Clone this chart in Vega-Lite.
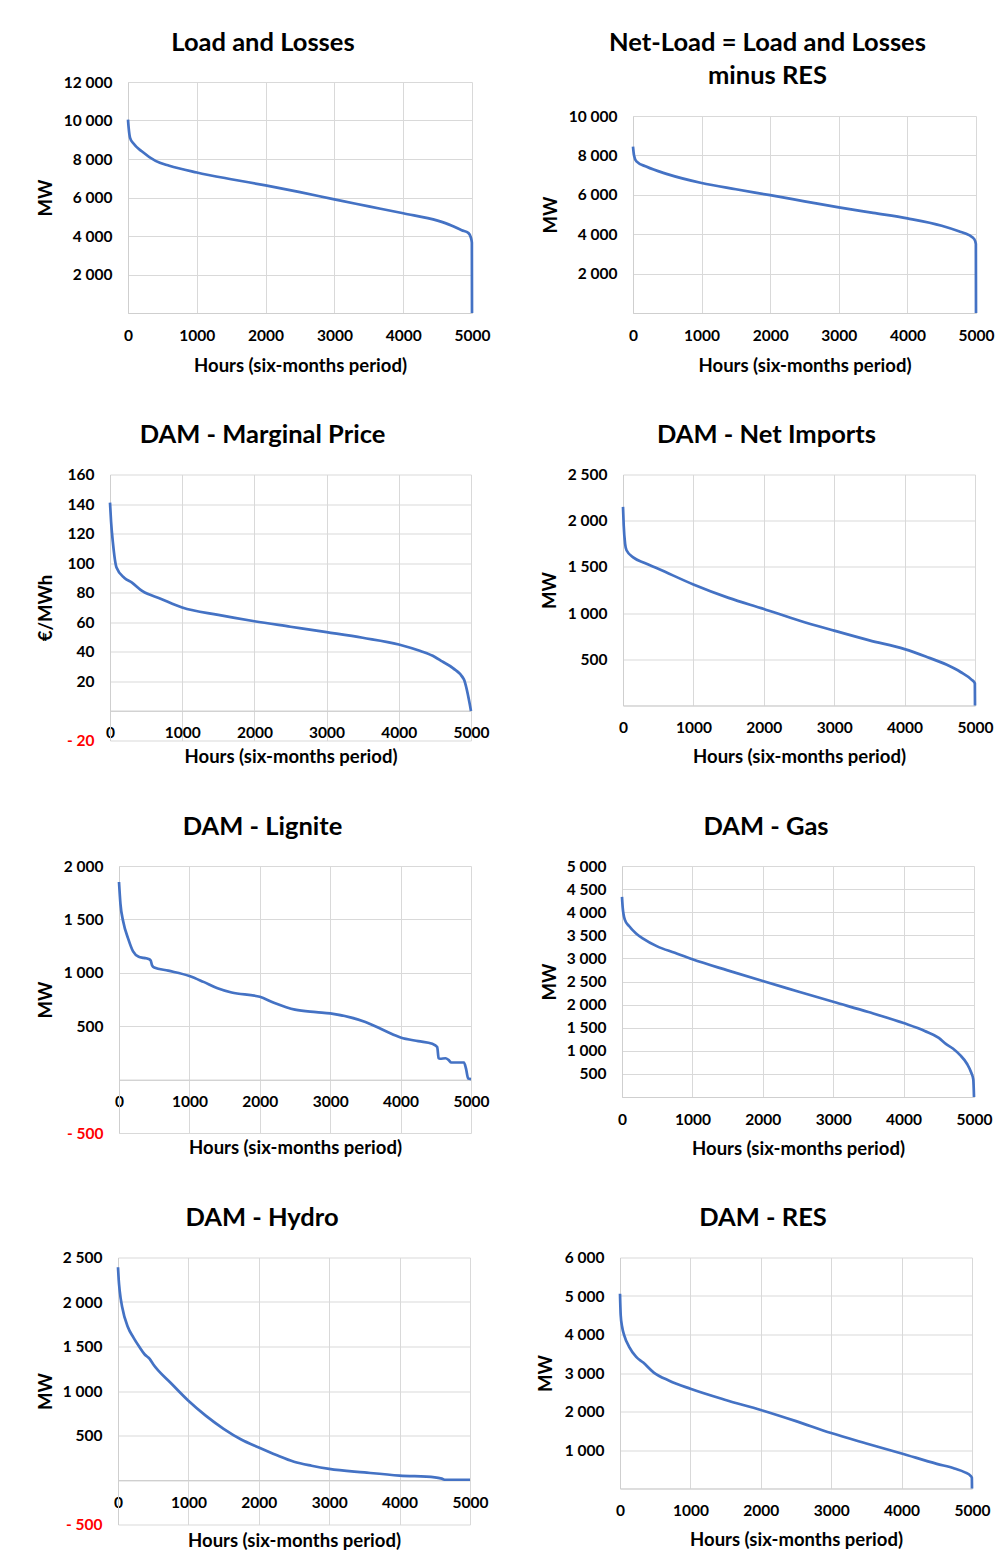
{
  "$schema": "https://vega.github.io/schema/vega-lite/v6.json",
  "padding": {"left": 36, "top": 30, "right": 5, "bottom": 5},
  "background": "white",
  "columns": 2,
  "spacing": {"row": 47.5, "column": 46},
  "config": {
    "font": "Lato",
    "view": {"stroke": null},
    "title": {"fontSize": 25.5, "fontWeight": "bold", "color": "black", "frame": "bounds", "anchor": "middle", "offset": 19, "lineHeight": 33},
    "axis": {"labelFontSize": 15.5, "labelFontWeight": "bold", "labelColor": "black", "titleFontSize": 18.5, "titleFontWeight": "bold", "titleColor": "black", "gridColor": "#d9d9d9", "domainColor": "#cfcfcf", "ticks": false, "labelOverlap": false},
    "axisX": {"labelPadding": 15, "labelFlush": false, "titleBaseline": "middle"},
    "axisY": {"labelPadding": 16, "titleBaseline": "middle"},
    "line": {"color": "#4472C4", "strokeWidth": 2.7, "interpolate": "monotone"}
  },
  "datasets": {
    "load": [{"h":0,"v":10050},{"h":10,"v":9600},{"h":30,"v":9100},{"h":80,"v":8800},{"h":200,"v":8400},{"h":400,"v":7900},{"h":600,"v":7650},{"h":1000,"v":7300},{"h":1500,"v":6950},{"h":2000,"v":6630},{"h":2500,"v":6280},{"h":3000,"v":5900},{"h":3500,"v":5540},{"h":4000,"v":5180},{"h":4500,"v":4800},{"h":4700,"v":4550},{"h":4850,"v":4300},{"h":4950,"v":4150},{"h":4985,"v":3900},{"h":4998,"v":3650},{"h":5000,"v":0}],
    "netload": [{"h":0,"v":8450},{"h":15,"v":8000},{"h":50,"v":7700},{"h":200,"v":7420},{"h":500,"v":7050},{"h":1000,"v":6600},{"h":1500,"v":6280},{"h":2000,"v":5980},{"h":2500,"v":5670},{"h":3000,"v":5360},{"h":3500,"v":5080},{"h":4000,"v":4800},{"h":4500,"v":4430},{"h":4750,"v":4150},{"h":4900,"v":3950},{"h":4975,"v":3750},{"h":4998,"v":3500},{"h":5000,"v":0}],
    "price": [{"h":0,"v":141},{"h":15,"v":128},{"h":40,"v":114},{"h":90,"v":97},{"h":200,"v":90},{"h":300,"v":87},{"h":450,"v":81},{"h":700,"v":76},{"h":1000,"v":70},{"h":1500,"v":65},{"h":2000,"v":60.7},{"h":2500,"v":57},{"h":3000,"v":53.3},{"h":3500,"v":49.5},{"h":4000,"v":45},{"h":4300,"v":40.5},{"h":4500,"v":36.5},{"h":4600,"v":33.5},{"h":4750,"v":29},{"h":4900,"v":21.5},{"h":5000,"v":0}],
    "imports": [{"h":0,"v":2150},{"h":10,"v":1950},{"h":30,"v":1750},{"h":50,"v":1680},{"h":150,"v":1600},{"h":300,"v":1545},{"h":500,"v":1480},{"h":1000,"v":1310},{"h":1500,"v":1165},{"h":2000,"v":1045},{"h":2500,"v":920},{"h":3000,"v":810},{"h":3500,"v":705},{"h":4000,"v":610},{"h":4300,"v":530},{"h":4600,"v":440},{"h":4800,"v":360},{"h":4950,"v":280},{"h":4998,"v":240},{"h":5000,"v":0}],
    "lignite": [{"h":0,"v":1850},{"h":20,"v":1650},{"h":60,"v":1480},{"h":130,"v":1320},{"h":200,"v":1200},{"h":280,"v":1150},{"h":350,"v":1140},{"h":420,"v":1130},{"h":450,"v":1115},{"h":470,"v":1070},{"h":500,"v":1050},{"h":700,"v":1020},{"h":1000,"v":970},{"h":1200,"v":915},{"h":1400,"v":855},{"h":1600,"v":815},{"h":2000,"v":775},{"h":2200,"v":720},{"h":2500,"v":655},{"h":2800,"v":632},{"h":3000,"v":620},{"h":3300,"v":580},{"h":3500,"v":540},{"h":3800,"v":450},{"h":4000,"v":395},{"h":4250,"v":360},{"h":4450,"v":335},{"h":4520,"v":305},{"h":4540,"v":200},{"h":4560,"v":195},{"h":4640,"v":200},{"h":4680,"v":185},{"h":4720,"v":160},{"h":4900,"v":160},{"h":4930,"v":100},{"h":4960,"v":10},{"h":5000,"v":5}],
    "gas": [{"h":0,"v":4330},{"h":10,"v":4100},{"h":40,"v":3840},{"h":100,"v":3700},{"h":200,"v":3540},{"h":300,"v":3430},{"h":500,"v":3260},{"h":750,"v":3120},{"h":1000,"v":2980},{"h":1500,"v":2740},{"h":2000,"v":2510},{"h":2500,"v":2285},{"h":3000,"v":2060},{"h":3500,"v":1840},{"h":4000,"v":1600},{"h":4300,"v":1430},{"h":4500,"v":1280},{"h":4600,"v":1150},{"h":4700,"v":1050},{"h":4800,"v":910},{"h":4900,"v":720},{"h":4960,"v":530},{"h":4990,"v":380},{"h":5000,"v":0}],
    "hydro": [{"h":0,"v":2390},{"h":10,"v":2250},{"h":25,"v":2120},{"h":60,"v":1940},{"h":140,"v":1720},{"h":220,"v":1600},{"h":300,"v":1500},{"h":380,"v":1410},{"h":450,"v":1360},{"h":500,"v":1300},{"h":750,"v":1090},{"h":1000,"v":890},{"h":1250,"v":720},{"h":1500,"v":575},{"h":1750,"v":455},{"h":2000,"v":365},{"h":2250,"v":280},{"h":2500,"v":205},{"h":2750,"v":160},{"h":3000,"v":125},{"h":3500,"v":85},{"h":4000,"v":50},{"h":4500,"v":30},{"h":4600,"v":15},{"h":4650,"v":3},{"h":5000,"v":3}],
    "res": [{"h":0,"v":5060},{"h":10,"v":4500},{"h":30,"v":4200},{"h":60,"v":3980},{"h":130,"v":3680},{"h":230,"v":3420},{"h":330,"v":3270},{"h":480,"v":3010},{"h":700,"v":2800},{"h":1000,"v":2590},{"h":1500,"v":2300},{"h":2000,"v":2040},{"h":2500,"v":1750},{"h":3000,"v":1440},{"h":3500,"v":1170},{"h":4000,"v":910},{"h":4500,"v":640},{"h":4750,"v":520},{"h":4900,"v":420},{"h":4980,"v":330},{"h":4998,"v":280},{"h":5000,"v":0}]
  },
  "concat": [
    {
      "title": "Load and Losses",
      "width": 362, "height": 231,
      "data": {"name": "load"},
      "mark": "line",
      "encoding": {
        "x": {"field": "h", "type": "quantitative", "scale": {"domain": [0, 5000], "nice": false, "range": [18, 362]}, "axis": {"title": "Hours (six-months period)", "values": [0,1000,2000,3000,4000,5000], "format": "d", "titleY": 52}},
        "y": {"field": "v", "type": "quantitative", "scale": {"domain": [0, 12000], "nice": false}, "axis": {"title": "MW", "offset": -18, "values": [0,2000,4000,6000,8000,10000,12000], "titleX": -83, "labelExpr": "datum.value == 0 ? '' : (datum.value < 0 ? '- ' : '') + replace(format(abs(datum.value), ','), ',', ' ')", "labelColor": {"condition": {"test": "datum.value < 0", "value": "#ff0000"}, "value": "black"}}}
      }
    },
    {
      "title": {"text": ["Net-Load = Load and Losses", "minus RES"], "dy": 26},
      "width": 356, "height": 231,
      "data": {"name": "netload"},
      "encoding": {
        "y": {"field": "v", "type": "quantitative", "scale": {"domain": [0, 10000], "nice": false, "range": [231, 34]}, "axis": {"title": "MW", "offset": -13, "values": [0,2000,4000,6000,8000,10000], "titleX": -83, "labelExpr": "datum.value == 0 ? '' : (datum.value < 0 ? '- ' : '') + replace(format(abs(datum.value), ','), ',', ' ')", "labelColor": {"condition": {"test": "datum.value < 0", "value": "#ff0000"}, "value": "black"}}}
      },
      "layer": [
        {
          "mark": "line",
          "encoding": {
            "x": {"field": "h", "type": "quantitative", "scale": {"domain": [0, 5000], "nice": false, "range": [13, 356]}, "axis": {"orient": "top", "grid": true, "labels": false, "domain": false, "title": null, "values": [0,1000,2000,3000,4000,5000]}}
          }
        },
        {
          "mark": {"type": "line", "opacity": 0},
          "encoding": {
            "x": {"field": "h", "type": "quantitative", "axis": {"orient": "bottom", "grid": false, "title": "Hours (six-months period)", "values": [0,1000,2000,3000,4000,5000], "format": "d", "titleY": 52}}
          }
        }
      ]
    },
    {
      "title": "DAM - Marginal Price",
      "width": 361, "height": 266,
      "data": {"name": "price"},
      "mark": "line",
      "encoding": {
        "x": {"field": "h", "type": "quantitative", "scale": {"domain": [0, 5000], "nice": false}, "axis": {"title": "Hours (six-months period)", "values": [0,1000,2000,3000,4000,5000], "format": "d", "offset": -29.6, "titleY": 46}},
        "y": {"field": "v", "type": "quantitative", "scale": {"domain": [-20, 160], "nice": false}, "axis": {"title": "€/MWh", "values": [-20,0,20,40,60,80,100,120,140,160], "titleX": -65, "labelExpr": "datum.value == 0 ? '' : (datum.value < 0 ? '- ' : '') + replace(format(abs(datum.value), ','), ',', ' ')", "labelColor": {"condition": {"test": "datum.value < 0", "value": "#ff0000"}, "value": "black"}}}
      }
    },
    {
      "title": "DAM - Net Imports",
      "width": 355, "height": 231,
      "data": {"name": "imports"},
      "mark": "line",
      "encoding": {
        "x": {"field": "h", "type": "quantitative", "scale": {"domain": [0, 5000], "nice": false, "range": [3, 355]}, "axis": {"title": "Hours (six-months period)", "values": [0,1000,2000,3000,4000,5000], "format": "d", "titleY": 51}},
        "y": {"field": "v", "type": "quantitative", "scale": {"domain": [0, 2500], "nice": false}, "axis": {"title": "MW", "offset": -3, "values": [0,500,1000,1500,2000,2500], "titleX": -74, "labelExpr": "datum.value == 0 ? '' : (datum.value < 0 ? '- ' : '') + replace(format(abs(datum.value), ','), ',', ' ')", "labelColor": {"condition": {"test": "datum.value < 0", "value": "#ff0000"}, "value": "black"}}}
      }
    },
    {
      "title": "DAM - Lignite",
      "width": 361, "height": 267,
      "data": {"name": "lignite"},
      "mark": "line",
      "encoding": {
        "x": {"field": "h", "type": "quantitative", "scale": {"domain": [0, 5000], "nice": false, "range": [9, 361]}, "axis": {"title": "Hours (six-months period)", "values": [0,1000,2000,3000,4000,5000], "format": "d", "offset": -53.4, "titleY": 68}},
        "y": {"field": "v", "type": "quantitative", "scale": {"domain": [-500, 2000], "nice": false}, "axis": {"title": "MW", "offset": -9, "values": [-500,0,500,1000,1500,2000], "titleX": -74, "labelExpr": "datum.value == 0 ? '' : (datum.value < 0 ? '- ' : '') + replace(format(abs(datum.value), ','), ',', ' ')", "labelColor": {"condition": {"test": "datum.value < 0", "value": "#ff0000"}, "value": "black"}}}
      }
    },
    {
      "title": "DAM - Gas",
      "width": 354, "height": 231,
      "data": {"name": "gas"},
      "mark": "line",
      "encoding": {
        "x": {"field": "h", "type": "quantitative", "scale": {"domain": [0, 5000], "nice": false, "range": [2, 354]}, "axis": {"title": "Hours (six-months period)", "values": [0,1000,2000,3000,4000,5000], "format": "d", "titleY": 51}},
        "y": {"field": "v", "type": "quantitative", "scale": {"domain": [0, 5000], "nice": false}, "axis": {"title": "MW", "offset": -2, "values": [0,500,1000,1500,2000,2500,3000,3500,4000,4500,5000], "titleX": -73, "labelExpr": "datum.value == 0 ? '' : (datum.value < 0 ? '- ' : '') + replace(format(abs(datum.value), ','), ',', ' ')", "labelColor": {"condition": {"test": "datum.value < 0", "value": "#ff0000"}, "value": "black"}}}
      }
    },
    {
      "title": "DAM - Hydro",
      "width": 360, "height": 267,
      "data": {"name": "hydro"},
      "mark": "line",
      "encoding": {
        "x": {"field": "h", "type": "quantitative", "scale": {"domain": [0, 5000], "nice": false, "range": [8, 360]}, "axis": {"title": "Hours (six-months period)", "values": [0,1000,2000,3000,4000,5000], "format": "d", "offset": -44.5, "titleY": 60}},
        "y": {"field": "v", "type": "quantitative", "scale": {"domain": [-500, 2500], "nice": false}, "axis": {"title": "MW", "offset": -8, "values": [-500,0,500,1000,1500,2000,2500], "titleX": -73, "labelExpr": "datum.value == 0 ? '' : (datum.value < 0 ? '- ' : '') + replace(format(abs(datum.value), ','), ',', ' ')", "labelColor": {"condition": {"test": "datum.value < 0", "value": "#ff0000"}, "value": "black"}}}
      }
    },
    {
      "title": "DAM - RES",
      "width": 352, "height": 231,
      "data": {"name": "res"},
      "mark": "line",
      "encoding": {
        "x": {"field": "h", "type": "quantitative", "scale": {"domain": [0, 5000], "nice": false}, "axis": {"title": "Hours (six-months period)", "values": [0,1000,2000,3000,4000,5000], "format": "d", "titleY": 51}},
        "y": {"field": "v", "type": "quantitative", "scale": {"domain": [0, 6000], "nice": false}, "axis": {"title": "MW", "values": [0,1000,2000,3000,4000,5000,6000], "titleX": -75, "labelExpr": "datum.value == 0 ? '' : (datum.value < 0 ? '- ' : '') + replace(format(abs(datum.value), ','), ',', ' ')", "labelColor": {"condition": {"test": "datum.value < 0", "value": "#ff0000"}, "value": "black"}}}
      }
    }
  ]
}
